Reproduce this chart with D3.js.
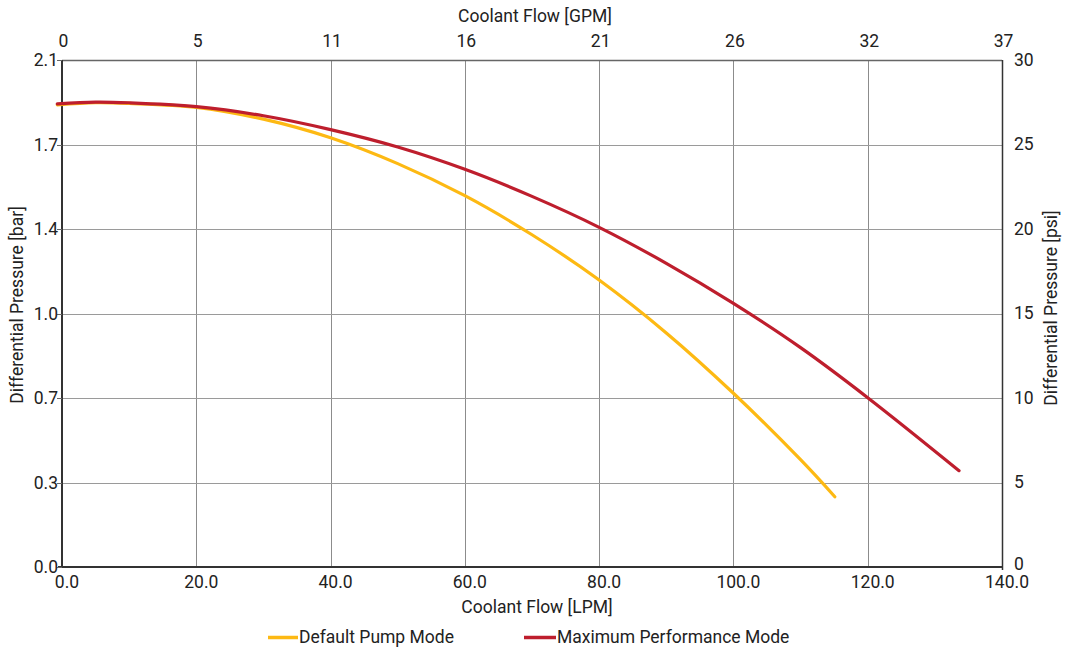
<!DOCTYPE html>
<html>
<head>
<meta charset="utf-8">
<script src="https://cdn.jsdelivr.net/npm/d3@7"></script>
<style>
  html, body { margin: 0; padding: 0; background: #fff; }
  svg { display: block; font-family: Roboto, "Noto Sans", sans-serif; }
</style>
</head>
<body>
<svg id="chart" width="1065" height="651"></svg>
<script>
// ---- data ----
const lpmTicks = [0, 20, 40, 60, 80, 100, 120, 140];
const gpmTickLabels = ["0", "5", "11", "16", "21", "26", "32", "37"];
const psiTicks = [0, 5, 10, 15, 20, 25, 30];
const barTickLabels = ["0.0", "0.3", "0.7", "1.0", "1.4", "1.7", "2.1"];

const defaultFlow = [-0.7, 5, 10, 20, 30, 40, 50, 60, 70, 80, 90, 100, 110, 115.1];
const defaultPsi  = [27.34, 27.47, 27.43, 27.2, 26.5, 25.4, 23.87, 21.97, 19.66, 16.98, 13.85, 10.28, 6.35, 4.16];

const maxFlow = [-0.7, 5, 10, 20, 30, 40, 50, 60, 70, 80, 90, 100, 110, 120, 133.6];
const maxPsi  = [27.40, 27.51, 27.47, 27.24, 26.7, 25.88, 24.85, 23.53, 21.93, 20.10, 17.97, 15.6, 12.98, 10.02, 5.70];

const seriesNames = ["Default Pump Mode", "Maximum Performance Mode"];
const seriesColors = ["#FDB913", "#BE1E2D"];

// ---- layout ----
const svg = d3.select("#chart");
const pL = 62, pR = 1002, pT = 60, pB = 567;

const x = d3.scaleLinear().domain([0, 140]).range([pL, pR]);
const y = d3.scaleLinear().domain([0, 30]).range([pB, pT]);

// grid
const grid = svg.append("g");
grid.selectAll("line.v").data(lpmTicks).join("line")
  .attr("x1", d => Math.round(x(d)) + 0.5).attr("x2", d => Math.round(x(d)) + 0.5)
  .attr("y1", pT).attr("y2", pB)
  .attr("stroke", "#8c8c8c").attr("stroke-width", 1);
grid.selectAll("line.h").data(psiTicks).join("line")
  .attr("y1", d => Math.round(y(d)) + 0.5).attr("y2", d => Math.round(y(d)) + 0.5)
  .attr("x1", pL).attr("x2", pR)
  .attr("stroke", "#9a9a9a").attr("stroke-width", 1);

// frame
svg.append("line").attr("x1", pL).attr("x2", pR).attr("y1", pT + 0.5).attr("y2", pT + 0.5)
  .attr("stroke", "#666").attr("stroke-width", 1.5);
svg.append("line").attr("x1", pR + 0.5).attr("x2", pR + 0.5).attr("y1", pT).attr("y2", pB + 3)
  .attr("stroke", "#333").attr("stroke-width", 1.5);
svg.append("line").attr("x1", pL).attr("x2", pL).attr("y1", pT).attr("y2", pB + 1)
  .attr("stroke", "#333").attr("stroke-width", 2);
svg.append("line").attr("x1", pL - 4).attr("x2", pR).attr("y1", pB).attr("y2", pB)
  .attr("stroke", "#333").attr("stroke-width", 2);

// left ticks
svg.selectAll("line.lt").data(psiTicks).join("line")
  .attr("x1", pL - 5).attr("x2", pL)
  .attr("y1", d => Math.round(y(d)) + 0.5).attr("y2", d => Math.round(y(d)) + 0.5)
  .attr("stroke", "#666");

const fs = 17.5;
const textColor = "#222";

// left tick labels (bar)
svg.selectAll("text.lt").data(psiTicks).join("text")
  .attr("x", pL - 4).attr("y", d => y(d)).attr("dy", "0.35em")
  .attr("text-anchor", "end").attr("font-size", fs).attr("fill", textColor)
  .text((d, i) => barTickLabels[i]);

// right tick labels (psi)
svg.selectAll("text.rt").data(psiTicks).join("text")
  .attr("x", pR + 12).attr("y", d => y(d) - (d === 0 ? 3 : 0)).attr("dy", "0.33em")
  .attr("text-anchor", "start").attr("font-size", fs).attr("fill", textColor)
  .text(d => d);

// bottom tick labels (LPM)
svg.selectAll("text.bt").data(lpmTicks).join("text")
  .attr("x", d => x(d) + 5).attr("y", pB + 21)
  .attr("text-anchor", "middle").attr("font-size", fs).attr("fill", textColor)
  .text(d => d.toFixed(1));

// top tick labels (GPM)
svg.selectAll("text.tt").data(lpmTicks).join("text")
  .attr("x", d => x(d) + 1.5).attr("y", pT - 13)
  .attr("text-anchor", "middle").attr("font-size", fs).attr("fill", textColor)
  .text((d, i) => gpmTickLabels[i]);

// axis titles
svg.append("text").attr("x", 535).attr("y", 22).attr("text-anchor", "middle")
  .attr("font-size", fs).attr("fill", textColor).text("Coolant Flow [GPM]");
svg.append("text").attr("x", 537).attr("y", 613).attr("text-anchor", "middle")
  .attr("font-size", fs).attr("fill", textColor).text("Coolant Flow [LPM]");
svg.append("text").attr("transform", "translate(23,305) rotate(-90)").attr("text-anchor", "middle")
  .attr("font-size", fs).attr("fill", textColor).text("Differential Pressure [bar]");
svg.append("text").attr("transform", "translate(1057,308) rotate(-90)").attr("text-anchor", "middle")
  .attr("font-size", fs).attr("fill", textColor).text("Differential Pressure [psi]");

// lines
const line = d3.line().x(d => x(d[0])).y(d => y(d[1])).curve(d3.curveCatmullRom.alpha(0.5));
const series = [
  d3.zip(defaultFlow, defaultPsi),
  d3.zip(maxFlow, maxPsi)
];
series.forEach((s, i) => {
  svg.append("path").datum(s).attr("d", line)
    .attr("fill", "none").attr("stroke", seriesColors[i]).attr("stroke-width", 3.2)
    .attr("stroke-linejoin", "round").attr("stroke-linecap", "round");
});

// legend
const legendItems = [
  { x0: 268, x1: 298, tx: 299 },
  { x0: 524, x1: 556, tx: 557 }
];
legendItems.forEach((it, i) => {
  svg.append("line").attr("x1", it.x0).attr("x2", it.x1).attr("y1", 637.5).attr("y2", 637.5)
    .attr("stroke", seriesColors[i]).attr("stroke-width", 3.5);
  svg.append("text").attr("x", it.tx).attr("y", 643).attr("font-size", fs).attr("fill", textColor)
    .text(seriesNames[i]);
});
</script>
</body>
</html>
